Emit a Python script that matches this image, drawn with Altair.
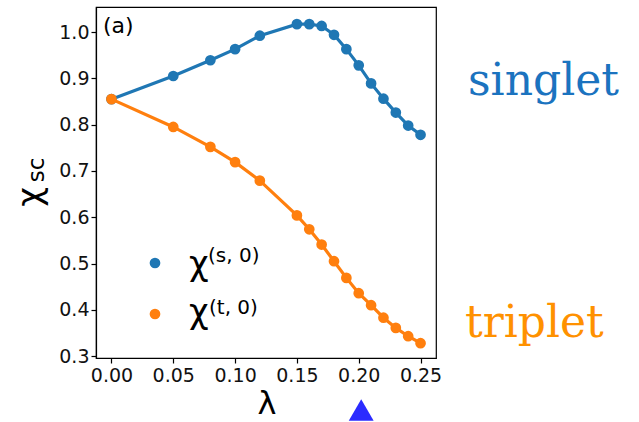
import altair as alt
import pandas as pd

# Coupling strength and the two susceptibilities
lam = [0.00, 0.05, 0.08, 0.10, 0.12, 0.15, 0.16, 0.17, 0.18, 0.19, 0.20, 0.21, 0.22, 0.23, 0.24, 0.25]
chi_singlet = [0.855, 0.905, 0.939, 0.963, 0.992, 1.017, 1.017, 1.013, 0.994, 0.963, 0.928, 0.889, 0.856, 0.826, 0.798, 0.778]
chi_triplet = [0.855, 0.795, 0.752, 0.719, 0.679, 0.604, 0.574, 0.541, 0.505, 0.469, 0.436, 0.410, 0.383, 0.361, 0.343, 0.328]

x_ticks = [0.00, 0.05, 0.10, 0.15, 0.20, 0.25]
y_ticks = [0.3, 0.4, 0.5, 0.6, 0.7, 0.8, 0.9, 1.0]
marker_lam = [0.202]

BLUE = "#1f77b4"
ORANGE = "#ff7f0e"
FONT = "DejaVu Sans"

df_s = pd.DataFrame({"lam": lam, "chi": chi_singlet})
df_t = pd.DataFrame({"lam": lam, "chi": chi_triplet})

xs = alt.Scale(domain=[-0.0125, 0.2625], nice=False, zero=False)
ys = alt.Scale(domain=[0.296, 1.054], nice=False, zero=False)

x_enc = alt.X("lam:Q", scale=xs, axis=alt.Axis(values=x_ticks, format=".2f", title=None))
y_enc = alt.Y("chi:Q", scale=ys, axis=alt.Axis(values=y_ticks, format=".1f", title=None))


def series(df, color):
    base = alt.Chart(df).encode(x=x_enc, y=y_enc)
    line = base.mark_line(color=color, strokeWidth=3.2)
    pts = base.mark_point(color=color, filled=True, opacity=1, size=115, shape="circle")
    return line + pts


def label(text, x, y, size, color="black", angle=0, align="left", font=FONT, baseline="alphabetic"):
    return alt.Chart(pd.DataFrame({"t": [text]})).mark_text(
        font=font, fontSize=size, color=color, align=align, baseline=baseline, angle=angle
    ).encode(text="t:N", x=alt.value(x), y=alt.value(y))


def legend_dot(color, x, y):
    return alt.Chart(pd.DataFrame({"t": [0]})).mark_point(
        color=color, filled=True, opacity=1, size=115, shape="circle"
    ).encode(x=alt.value(x), y=alt.value(y))


marker = alt.Chart(pd.DataFrame({"lam": marker_lam})).mark_point(
    shape="triangle-up", filled=True, opacity=1, color="#2b2bff", size=620
).encode(x=alt.X("lam:Q", scale=xs), y=alt.value(403))

chart = alt.layer(
    series(df_s, BLUE),
    series(df_t, ORANGE),
    label("(a)", 7, 26, 22),
    legend_dot(BLUE, 59, 256),
    legend_dot(ORANGE, 59, 307),
    label("χ", 93, 268, 34),
    label("(s, 0)", 112, 255, 20),
    label("χ", 93, 316, 34),
    label("(t, 0)", 113, 307, 20),
    label("χ", -55, 190, 34, angle=270, align="center"),
    label("sc", -52, 163, 23, angle=270, align="center"),
    label("λ", 171, 407, 32, align="center"),
    label("singlet", 372, 88, 44, color="#1b73bf", font="DejaVu Serif"),
    label("triplet", 369, 330, 44, color="#ff9100", font="DejaVu Serif"),
    marker,
).properties(
    width=340,
    height=351,
    autosize=alt.AutoSizeParams(type="none"),
    padding={"left": 96, "top": 7, "right": 203, "bottom": 64},
).configure_view(
    stroke="black", strokeWidth=1.2
).configure_axis(
    grid=False,
    domainColor="black",
    domainWidth=1.2,
    tickColor="black",
    tickSize=5,
    tickWidth=1.2,
    labelFont=FONT,
    labelFontSize=19,
    labelColor="#111111",
    labelPadding=2,
).configure_axisX(
    labelPadding=3,
)

chart.save("out.html", embed_options={"renderer": "svg", "actions": False})
